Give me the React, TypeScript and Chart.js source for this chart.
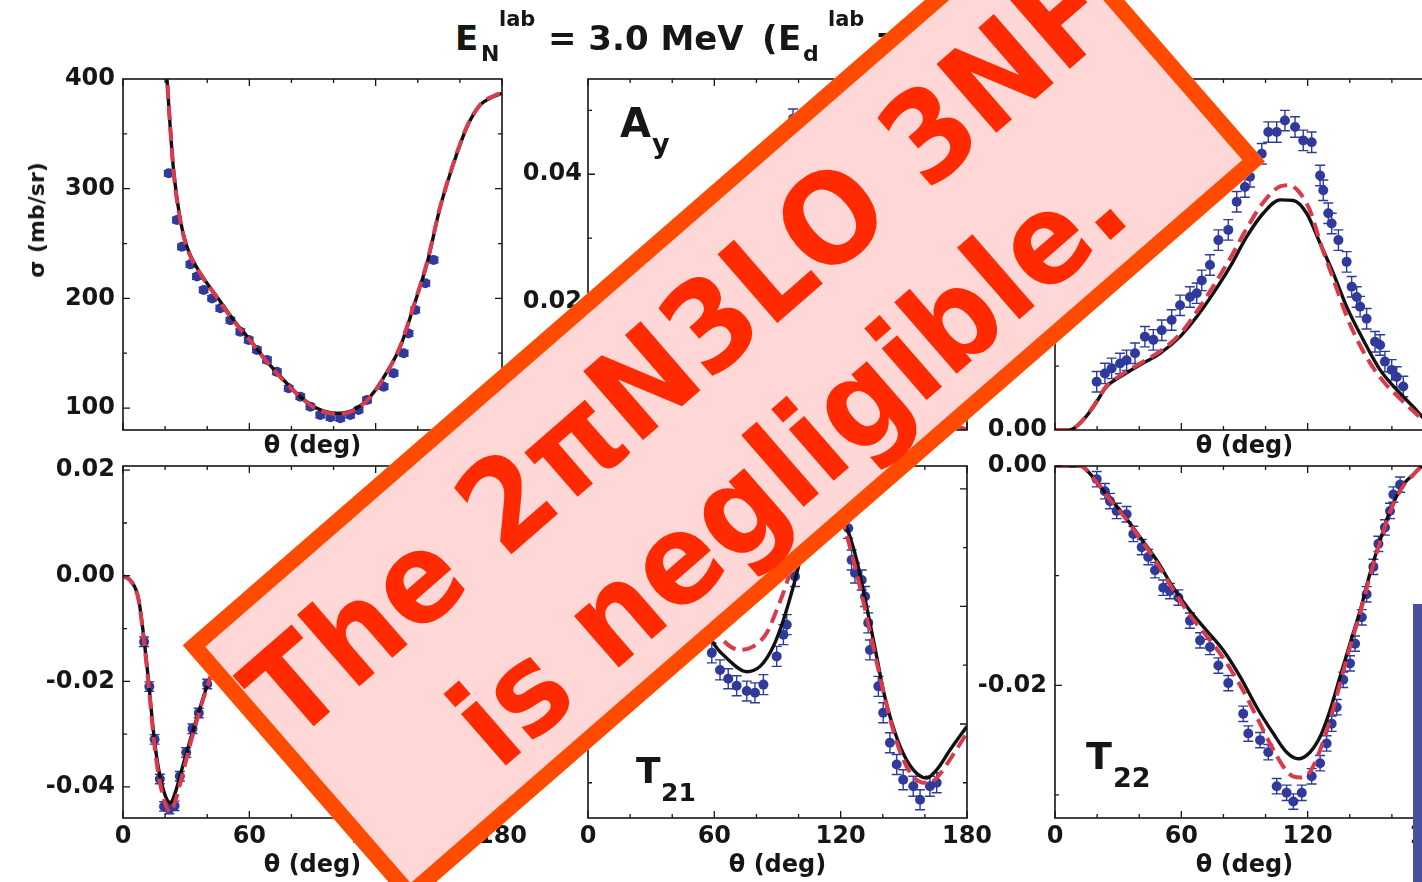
import React, { useEffect, useRef } from "react";
import { Chart, registerables } from "chart.js";
Chart.register(...registerables);

const FONT = "DejaVu Sans";
const INK = "#161616";
const RED = "#d93a4c";
const BLUE = "#2f3a9c";

// ---------- shared axis ticks ----------
const xTickValues = [0, 20, 40, 60, 80, 100, 120, 140, 160, 180];
const xMajorValues = [0, 60, 120, 180];

// ---------- sigma (mb/sr) ----------
const sigmaCurveDeg = [19.5, 20.9, 22.4, 24, 27.2, 30.4, 36.7, 44.6, 52.5, 60.4, 68.4, 76.3, 84.2, 92.1, 101.6, 109.5, 117.4, 125.4, 131.7, 138, 144.4, 150.7, 157, 163.4, 169.7, 176, 180];
const sigmaBlack = [450, 400, 356.6, 317, 271.5, 247, 223, 201.6, 180.3, 162, 142.3, 125.6, 110.4, 99.8, 95.3, 98.3, 110.4, 133, 156, 192.4, 232, 283.6, 323, 356.5, 376.3, 384, 387];
const sigmaRed = [452, 401, 357.5, 316, 271, 246, 222.5, 201, 179.5, 161.5, 142, 125, 110, 99.2, 94.6, 97.8, 110, 132.5, 156.5, 193, 233, 284, 323.5, 357, 376.8, 384.5, 387.5];
const sigmaDataDeg = [21.7, 25.6, 28, 32, 35.1, 38.3, 42.3, 46.2, 51, 55.7, 59.7, 63.6, 68.4, 73.1, 78.7, 84.2, 89, 93.7, 98.5, 103.2, 107.9, 111.9, 115.9, 123.8, 128.5, 133.3, 135.6, 138.8, 143.6, 147.5];
const sigmaData = [314, 271.5, 247, 231, 220, 207.7, 200, 191, 180, 169.6, 162, 153, 143.8, 133, 118, 110.4, 101.3, 93.7, 91.6, 90.7, 93.7, 98.3, 107.4, 119.5, 131.7, 150, 168, 189.4, 213.8, 235];
const sigmaErr = 2.5;
const sigmaYTicks = [100, 150, 200, 250, 300, 350];
const sigmaYLabels = [100, 200, 300, 400];

// ---------- A_y ----------
const ayCurveDeg = [0, 10, 20, 30, 40, 50, 60, 70, 80, 90, 100, 105, 110, 120, 130, 140, 150, 160, 170, 180];
const ayBlack = [0, 0.0015, 0.005, 0.009, 0.0135, 0.018, 0.0225, 0.027, 0.031, 0.0345, 0.0365, 0.037, 0.0365, 0.033, 0.0265, 0.019, 0.0115, 0.0055, 0.0015, 0];
const ayRed = [0, 0.0016, 0.0052, 0.0094, 0.014, 0.0188, 0.0236, 0.0284, 0.0326, 0.0362, 0.0384, 0.039, 0.0385, 0.0348, 0.028, 0.0201, 0.0122, 0.0058, 0.0016, 0];
const ayDataDeg = [15, 25, 35, 45, 55, 65, 75, 85, 92, 97.4, 103, 110, 118, 126, 134, 142, 150, 158, 166, 174];
const ayData = [0.0045, 0.009, 0.014, 0.019, 0.024, 0.029, 0.034, 0.04, 0.0445, 0.0487, 0.0482, 0.047, 0.043, 0.037, 0.029, 0.021, 0.014, 0.008, 0.004, 0.001];
const ayErr = 0.0015;

// ---------- third panel (iT11) ----------
const it11BlackDeg = [0, 7, 11.9, 18.2, 24.5, 30.9, 40.4, 49.9, 59.4, 67.3, 75.2, 83.1, 91, 98.9, 106.9, 113.2, 119.5, 125.9, 132.2, 138.5, 146.4, 154.4, 162.3, 170.2, 174.3, 180];
const it11Black = [0, 0, 0.00104, 0.0036, 0.0068, 0.0083, 0.0102, 0.012, 0.0146, 0.0177, 0.0214, 0.0255, 0.0302, 0.0339, 0.036, 0.0359, 0.0339, 0.0292, 0.0245, 0.0193, 0.0141, 0.0094, 0.0063, 0.0036, 0.0021, 0];
const it11RedDeg = [0, 7, 11.9, 18.2, 24.5, 30.9, 40.4, 49.9, 59.4, 67.3, 75.2, 83.1, 91, 98.9, 106.9, 111, 116, 121, 126.7, 132.2, 138.5, 144, 150, 157, 163, 170, 180];
const it11Red = [0, 0, 0.0011, 0.0037, 0.0069, 0.0085, 0.0104, 0.0123, 0.015, 0.0185, 0.0225, 0.0268, 0.0315, 0.0356, 0.0381, 0.0383, 0.0372, 0.0344, 0.0286, 0.0236, 0.0178, 0.0138, 0.0103, 0.0072, 0.0052, 0.003, 0];
const it11DataDeg = [19.8, 23.7, 26.9, 30.9, 34, 38, 42.7, 46.7, 50.7, 55.4, 59.4, 64.1, 67.3, 69.7, 73.6, 77.6, 82.3, 86.3, 90.2, 92.6, 98.2, 101.3, 105.3, 109.2, 114, 117.9, 121.9, 125.9, 127.4, 129.8, 131.4, 134.6, 138.5, 140.9, 143.3, 144.9, 148, 152, 154.4, 156.7, 159.9, 162.3, 165.4];
const it11Data = [0.00755, 0.00885, 0.00964, 0.0104, 0.0109, 0.012, 0.0146, 0.0141, 0.0156, 0.0172, 0.0195, 0.0208, 0.0214, 0.0234, 0.0258, 0.0297, 0.0313, 0.0357, 0.038, 0.0396, 0.0432, 0.0466, 0.0466, 0.0484, 0.0474, 0.0453, 0.045, 0.0398, 0.0375, 0.0339, 0.0323, 0.0297, 0.0263, 0.0224, 0.0208, 0.0193, 0.0174, 0.0138, 0.0133, 0.0107, 0.0094, 0.0083, 0.0068];
const it11Err = 0.0016;
const polYTicks = [0.01, 0.02, 0.03, 0.04, 0.05];
const polYLabels = [0, 0.02, 0.04];

// ---------- T20 ----------
const t20CurveDeg = [0, 4.3, 7.4, 9.8, 12.2, 14.5, 16.9, 20.1, 22.5, 24.8, 28, 32, 35.9, 39.9, 45, 50, 60, 70, 80, 90, 100, 110, 120, 135, 150, 165, 180];
const t20Black = [0, -0.00125, -0.0044, -0.0114, -0.0202, -0.0297, -0.0366, -0.0417, -0.043, -0.0411, -0.0366, -0.031, -0.0259, -0.0209, -0.0155, -0.0115, -0.0055, -0.0015, 0.0012, 0.003, 0.0042, 0.005, 0.0054, 0.0052, 0.004, 0.002, 0];
const t20Red = [0, -0.0013, -0.0046, -0.0118, -0.0208, -0.0305, -0.0378, -0.0432, -0.0448, -0.0428, -0.038, -0.0318, -0.0263, -0.0211, -0.0157, -0.0117, -0.0057, -0.0016, 0.0011, 0.003, 0.0043, 0.0051, 0.0055, 0.0053, 0.0041, 0.0021, 0];
const t20DataDeg = [10, 12.5, 15, 17.5, 19.5, 22, 24.5, 27, 30, 33, 36, 40, 45, 50, 60, 70, 80, 90, 100, 110, 120, 130, 140, 150, 160, 170];
const t20Data = [-0.0125, -0.021, -0.031, -0.0385, -0.0437, -0.0442, -0.0436, -0.038, -0.0335, -0.029, -0.026, -0.0205, -0.016, -0.012, -0.0058, -0.0018, 0.001, 0.0028, 0.004, 0.0048, 0.005, 0.005, 0.0045, 0.0038, 0.0028, 0.0015];
const t20Err = 0.0009;
const t20YTicks = [0.02, 0.01, 0, -0.01, -0.02, -0.03, -0.04];
const t20YLabels = [0.02, 0, -0.02, -0.04];

// ---------- T21 ----------
const t21BlackDeg = [0, 10, 20, 30, 40, 50, 55, 59.5, 65.9, 75.4, 81.7, 88, 92.8, 97.5, 103, 108, 113, 117, 122, 124.4, 127.6, 130.7, 133.9, 137.1, 140.2, 143.4, 148.2, 154.5, 160.9, 165.6, 172, 180];
const t21Black = [0, -0.002, -0.004, -0.006, -0.01, -0.017, -0.0225, -0.0262, -0.0288, -0.0311, -0.0302, -0.0268, -0.0223, -0.0166, -0.009, -0.003, 0, -0.001, -0.0058, -0.0081, -0.0121, -0.0172, -0.0228, -0.0285, -0.0342, -0.0387, -0.0438, -0.0478, -0.0492, -0.0478, -0.0444, -0.0404];
const t21RedDeg = [0, 20, 40, 55, 62.7, 72.2, 78.5, 84.9, 89.6, 94.4, 100, 106, 112, 118, 123, 127, 131, 135, 139, 143, 148, 154, 160, 162.4, 166, 172, 180];
const t21Red = [0, -0.004, -0.0105, -0.02, -0.0251, -0.0274, -0.0268, -0.0245, -0.0206, -0.016, -0.009, -0.002, 0.001, -0.002, -0.008, -0.0135, -0.0195, -0.026, -0.0325, -0.0385, -0.0445, -0.0488, -0.05, -0.05, -0.049, -0.046, -0.0415];
const t21DataDeg = [10, 20, 30, 40, 50, 58.8, 62.7, 66.6, 70.6, 75.4, 79.3, 83.3, 89.6, 92.8, 94.4, 98.3, 103, 108, 113, 118, 123.6, 125.2, 126.8, 130, 131.6, 133.1, 133.9, 137.9, 140.2, 143.4, 146.6, 149.7, 154.5, 157.7, 162.4, 165.6];
const t21Data = [-0.002, -0.005, -0.008, -0.013, -0.021, -0.0279, -0.0308, -0.0323, -0.0335, -0.0344, -0.0347, -0.0333, -0.0285, -0.0248, -0.0231, -0.0149, -0.008, -0.002, 0.001, -0.001, -0.0067, -0.0121, -0.0143, -0.0155, -0.0183, -0.0228, -0.0274, -0.0336, -0.0381, -0.0432, -0.0469, -0.0495, -0.0506, -0.0529, -0.0506, -0.05];
const t21Err = 0.0017;
const t21YTicks = [0, -0.01, -0.02, -0.03, -0.04, -0.05];
const t21YLabels = [0, -0.02, -0.04];

// ---------- T22 ----------
const t22BlackDeg = [0, 12, 18.2, 24.5, 32.4, 40.4, 48.3, 56.2, 64.1, 72, 79.9, 87.9, 95.8, 103.7, 110, 115.6, 121.1, 125.9, 130.6, 135.4, 140.1, 144.9, 149.6, 154.4, 159.1, 165.4, 170.2, 174.3, 180];
const t22Black = [0, 0, -0.00106, -0.0026, -0.0044, -0.0065, -0.0086, -0.0111, -0.0132, -0.015, -0.0168, -0.0192, -0.022, -0.0244, -0.0261, -0.0267, -0.0261, -0.0247, -0.0223, -0.0192, -0.0162, -0.0132, -0.0098, -0.0068, -0.0041, -0.0017, -0.00076, 0, 0.0004];
const t22RedDeg = [0, 12, 18.2, 24.5, 32.4, 40.4, 48.3, 56.2, 64.1, 72, 79.9, 89.4, 95.8, 102.1, 108.4, 113, 117, 121.1, 125.9, 130.6, 135.4, 140.1, 144.9, 149.6, 154.4, 159.1, 165.4, 170.2, 174.3, 180];
const t22Red = [0, 0, -0.0011, -0.0027, -0.0045, -0.0066, -0.0088, -0.0113, -0.0136, -0.0155, -0.0175, -0.0205, -0.0229, -0.0253, -0.0274, -0.0283, -0.0284, -0.0279, -0.0259, -0.0232, -0.0198, -0.0165, -0.0134, -0.01, -0.0069, -0.0042, -0.0018, -0.0008, 0, 0.0004];
const t22DataDeg = [19.8, 23.7, 26.1, 29.3, 34, 37.2, 41.2, 44.3, 47.5, 51.4, 54.6, 58.6, 64.1, 68.9, 73.6, 77.6, 82.3, 89.4, 91.8, 97.4, 101.3, 105.3, 110, 113.2, 117.2, 121.9, 125.9, 129, 131.4, 133.8, 136.9, 140.1, 142.5, 145.7, 148, 151.2, 153.6, 156.7, 159.1, 160.7, 163.9];
const t22Data = [-0.0012, -0.0023, -0.0032, -0.0041, -0.0044, -0.0062, -0.0074, -0.0083, -0.0095, -0.0111, -0.0114, -0.012, -0.0141, -0.0159, -0.0165, -0.0182, -0.0198, -0.0226, -0.0244, -0.025, -0.0261, -0.0292, -0.0298, -0.0306, -0.0298, -0.0283, -0.0271, -0.0253, -0.0235, -0.022, -0.0195, -0.018, -0.0162, -0.0138, -0.0117, -0.0092, -0.0071, -0.0056, -0.0041, -0.0026, -0.0017];
const t22Err = 0.0007;
const t22YTicks = [0, -0.01, -0.02, -0.03];
const t22YLabels = [0, -0.02];

// ---------- helpers ----------
const pts = (xs: number[], ys: number[]) => xs.map((x, i) => ({ x, y: ys[i] }));
const near = (list: number[], v: number) => list.some((l) => Math.abs(l - v) < 1e-7);
const fmt2 = (v: number) => (Math.abs(v) < 1e-9 ? 0 : v).toFixed(2);

const framePlugin = {
  id: "frame",
  afterDraw(chart: any, _args: any, opts: any) {
    const { ctx, chartArea: a, scales } = chart;
    ctx.save();
    ctx.strokeStyle = INK;
    ctx.lineWidth = 1.6;
    ctx.strokeRect(a.left, a.top, a.right - a.left, a.bottom - a.top);
    ctx.lineWidth = 1.3;
    ctx.beginPath();
    for (const v of opts.xTicks) {
      const x = scales.x.getPixelForValue(v);
      const len = near(opts.xMajor, v) ? 7 : 4;
      ctx.moveTo(x, a.bottom);
      ctx.lineTo(x, a.bottom - len);
      ctx.moveTo(x, a.top);
      ctx.lineTo(x, a.top + len);
    }
    for (const v of opts.yTicks) {
      const y = scales.y.getPixelForValue(v);
      const len = near(opts.yMajor, v) ? 7 : 4;
      ctx.moveTo(a.left, y);
      ctx.lineTo(a.left + len, y);
      ctx.moveTo(a.right, y);
      ctx.lineTo(a.right - len, y);
    }
    ctx.stroke();
    ctx.restore();
  },
};

const errorBarPlugin = {
  id: "errorBars",
  beforeDatasetsDraw(chart: any) {
    const { ctx, chartArea: a, scales } = chart;
    ctx.save();
    ctx.beginPath();
    ctx.rect(a.left, a.top, a.right - a.left, a.bottom - a.top);
    ctx.clip();
    chart.data.datasets.forEach((ds: any) => {
      if (ds.errorBar === undefined) return;
      ctx.strokeStyle = ds.backgroundColor;
      ctx.lineWidth = 1.4;
      ctx.beginPath();
      for (const p of ds.data) {
        const x = scales.x.getPixelForValue(p.x);
        const y1 = scales.y.getPixelForValue(p.y + ds.errorBar);
        const y2 = scales.y.getPixelForValue(p.y - ds.errorBar);
        ctx.moveTo(x, y1);
        ctx.lineTo(x, y2);
        ctx.moveTo(x - 5, y1);
        ctx.lineTo(x + 5, y1);
        ctx.moveTo(x - 5, y2);
        ctx.lineTo(x + 5, y2);
      }
      ctx.stroke();
    });
    ctx.restore();
  },
};

type PanelDef = {
  left: number;
  top: number;
  yW: number;
  yPad: number;
  plotH: number;
  xH: number;
  showXLabels: boolean;
  yMin: number;
  yMax: number;
  yStep: number;
  yTicks: number[];
  yLabels: number[];
  yFmt: (v: number) => string;
  red: { x: number; y: number }[];
  black: { x: number; y: number }[];
  data: { x: number; y: number }[];
  err: number;
};

const PAD_TOP = 16;
const PAD_RIGHT = 30;
const PLOT_W = 379;

function buildConfig(p: PanelDef): any {
  const tickFont = { family: FONT, weight: "bold", size: 24 };
  return {
    type: "scatter",
    data: {
      datasets: [
        {
          data: p.red,
          showLine: true,
          borderColor: RED,
          borderWidth: 4,
          borderDash: [14, 7],
          pointRadius: 0,
          cubicInterpolationMode: "monotone",
          fill: false,
        },
        {
          data: p.black,
          showLine: true,
          borderColor: "#111111",
          borderWidth: 3.4,
          pointRadius: 0,
          cubicInterpolationMode: "monotone",
          fill: false,
        },
        {
          data: p.data,
          showLine: false,
          backgroundColor: BLUE,
          borderWidth: 0,
          pointRadius: 5,
          errorBar: p.err,
        },
      ],
    },
    options: {
      responsive: false,
      animation: false,
      devicePixelRatio: 1,
      events: [],
      layout: { padding: { top: PAD_TOP, right: PAD_RIGHT, left: 0, bottom: 0 } },
      plugins: {
        legend: { display: false },
        tooltip: { enabled: false },
        frame: {
          xTicks: xTickValues,
          xMajor: xMajorValues,
          yTicks: p.yTicks,
          yMajor: p.yLabels,
        },
      },
      scales: {
        x: {
          type: "linear",
          min: 0,
          max: 180,
          grid: { display: false, drawTicks: false },
          border: { display: false },
          ticks: {
            stepSize: 20,
            autoSkip: false,
            maxRotation: 0,
            minRotation: 0,
            padding: 4,
            color: INK,
            font: tickFont,
            callback: (v: number) => (p.showXLabels && near(xMajorValues, v) ? String(v) : ""),
          },
          title: {
            display: true,
            text: "θ (deg)",
            color: INK,
            font: { family: FONT, weight: "bold", size: 24 },
            padding: { top: 0, bottom: 0 },
          },
          afterFit(s: any) {
            s.height = p.xH;
            s.paddingLeft = 0;
            s.paddingRight = 0;
          },
        },
        y: {
          type: "linear",
          min: p.yMin,
          max: p.yMax,
          grid: { display: false, drawTicks: false },
          border: { display: false },
          ticks: {
            stepSize: p.yStep,
            includeBounds: false,
            autoSkip: false,
            padding: p.yPad,
            color: INK,
            font: tickFont,
            callback: (v: number) => (near(p.yLabels, v) ? p.yFmt(v) : ""),
          },
          afterFit(s: any) {
            s.width = p.yW;
            s.paddingTop = 0;
            s.paddingBottom = 0;
          },
        },
      },
    },
    plugins: [framePlugin, errorBarPlugin],
  };
}

function Panel({ def }: { def: PanelDef }) {
  const ref = useRef<HTMLCanvasElement>(null);
  useEffect(() => {
    const chart = new Chart(ref.current as HTMLCanvasElement, buildConfig(def));
    return () => chart.destroy();
  }, []);
  const w = def.yW + PLOT_W + PAD_RIGHT;
  const h = PAD_TOP + def.plotH + def.xH;
  return (
    <canvas
      ref={ref}
      width={w}
      height={h}
      style={{ position: "absolute", left: def.left, top: def.top, width: w, height: h }}
    />
  );
}

const sigmaFmt = (v: number) => String(Math.round(v));

const panels: PanelDef[] = [
  {
    left: 0, top: 79 - PAD_TOP, yW: 123, yPad: 8, plotH: 351, xH: 31, showXLabels: false,
    yMin: 80, yMax: 400, yStep: 50, yTicks: sigmaYTicks, yLabels: sigmaYLabels, yFmt: sigmaFmt,
    red: pts(sigmaCurveDeg, sigmaRed), black: pts(sigmaCurveDeg, sigmaBlack), data: pts(sigmaDataDeg, sigmaData), err: sigmaErr,
  },
  {
    left: 510, top: 79 - PAD_TOP, yW: 78, yPad: 6, plotH: 351, xH: 31, showXLabels: false,
    yMin: 0, yMax: 0.0549, yStep: 0.01, yTicks: polYTicks, yLabels: polYLabels, yFmt: fmt2,
    red: pts(ayCurveDeg, ayRed), black: pts(ayCurveDeg, ayBlack), data: pts(ayDataDeg, ayData), err: ayErr,
  },
  {
    left: 960, top: 79 - PAD_TOP, yW: 95, yPad: 8, plotH: 351, xH: 31, showXLabels: false,
    yMin: 0, yMax: 0.0549, yStep: 0.01, yTicks: polYTicks, yLabels: polYLabels, yFmt: fmt2,
    red: pts(it11RedDeg, it11Red), black: pts(it11BlackDeg, it11Black), data: pts(it11DataDeg, it11Data), err: it11Err,
  },
  {
    left: 0, top: 466 - PAD_TOP, yW: 123, yPad: 8, plotH: 352, xH: 62, showXLabels: true,
    yMin: -0.0459, yMax: 0.0208, yStep: 0.01, yTicks: t20YTicks, yLabels: t20YLabels, yFmt: fmt2,
    red: pts(t20CurveDeg, t20Red), black: pts(t20CurveDeg, t20Black), data: pts(t20DataDeg, t20Data), err: t20Err,
  },
  {
    left: 510, top: 466 - PAD_TOP, yW: 78, yPad: 6, plotH: 352, xH: 62, showXLabels: true,
    yMin: -0.056, yMax: 0.0039, yStep: 0.01, yTicks: t21YTicks, yLabels: t21YLabels, yFmt: fmt2,
    red: pts(t21RedDeg, t21Red), black: pts(t21BlackDeg, t21Black), data: pts(t21DataDeg, t21Data), err: t21Err,
  },
  {
    left: 960, top: 466 - PAD_TOP, yW: 95, yPad: 8, plotH: 352, xH: 62, showXLabels: true,
    yMin: -0.0321, yMax: 0, yStep: 0.01, yTicks: t22YTicks, yLabels: t22YLabels, yFmt: fmt2,
    red: pts(t22RedDeg, t22Red), black: pts(t22BlackDeg, t22Black), data: pts(t22DataDeg, t22Data), err: t22Err,
  },
];

function Txt({ x, base, size, children, color }: { x: number; base: number; size: number; children: any; color?: string }) {
  return (
    <span
      style={{
        position: "absolute",
        left: x,
        top: base - 0.846 * size,
        fontFamily: FONT,
        fontWeight: "bold",
        fontSize: size,
        lineHeight: `${size}px`,
        whiteSpace: "nowrap",
        color: color || INK,
      }}
    >
      {children}
    </span>
  );
}

const bannerText: React.CSSProperties = {
  position: "absolute",
  width: 1501.5,
  textAlign: "center",
  fontFamily: FONT,
  fontWeight: "bold",
  fontSize: 125,
  lineHeight: "125px",
  whiteSpace: "nowrap",
  color: "#ff2a00",
  transform: "scaleX(0.93)",
  transformOrigin: "50% 50%",
};

export default function App() {
  return (
    <div
      style={{
        position: "absolute",
        left: 0,
        top: 0,
        width: 1422,
        height: 882,
        overflow: "hidden",
        background: "#ffffff",
      }}
    >
      {panels.map((d, i) => (
        <Panel key={i} def={d} />
      ))}

      {/* title */}
      <Txt x={455} base={50} size={34}>E</Txt>
      <Txt x={481} base={62} size={22}>N</Txt>
      <Txt x={499} base={27} size={21}>lab</Txt>
      <Txt x={548} base={50} size={34}>= 3.0 MeV</Txt>
      <Txt x={762} base={50} size={34}>(</Txt>
      <Txt x={778} base={50} size={34}>E</Txt>
      <Txt x={803} base={62} size={22}>d</Txt>
      <Txt x={828} base={27} size={21}>lab</Txt>
      <Txt x={875} base={50} size={34}>= 6.0 MeV)</Txt>

      {/* y-axis title of the cross-section panel */}
      <span
        style={{
          position: "absolute",
          left: 37,
          top: 220,
          transform: "translate(-50%, -50%) rotate(-90deg)",
          fontFamily: FONT,
          fontWeight: "bold",
          fontSize: 22,
          lineHeight: "22px",
          whiteSpace: "nowrap",
          color: INK,
        }}
      >
        σ (mb/sr)
      </span>

      {/* panel labels */}
      <Txt x={620} base={137} size={40}>A</Txt>
      <Txt x={652} base={153} size={27}>y</Txt>
      <Txt x={636} base={783} size={36}>T</Txt>
      <Txt x={661} base={801.6} size={25}>21</Txt>
      <Txt x={1086} base={769.5} size={38}>T</Txt>
      <Txt x={1113} base={786.5} size={27}>22</Txt>

      {/* blue side bar */}
      <div style={{ position: "absolute", left: 1413, top: 604, width: 12, height: 280, background: "#4a4f9e" }} />

      {/* banner */}
      <div
        style={{
          position: "absolute",
          left: 157.25,
          top: 230.8,
          width: 1133.5,
          height: 345.4,
          boxSizing: "border-box",
          border: "16px solid #ff4a00",
          background: "#ffd7d7",
          transform: "rotate(-41deg)",
          transformOrigin: "50% 50%",
        }}
      >
        <div style={{ ...bannerText, left: -200, top: 25 }}>The 2πN3LO 3NF</div>
        <div style={{ ...bannerText, left: -190, top: 181 }}>is negligible.</div>
      </div>
    </div>
  );
}
